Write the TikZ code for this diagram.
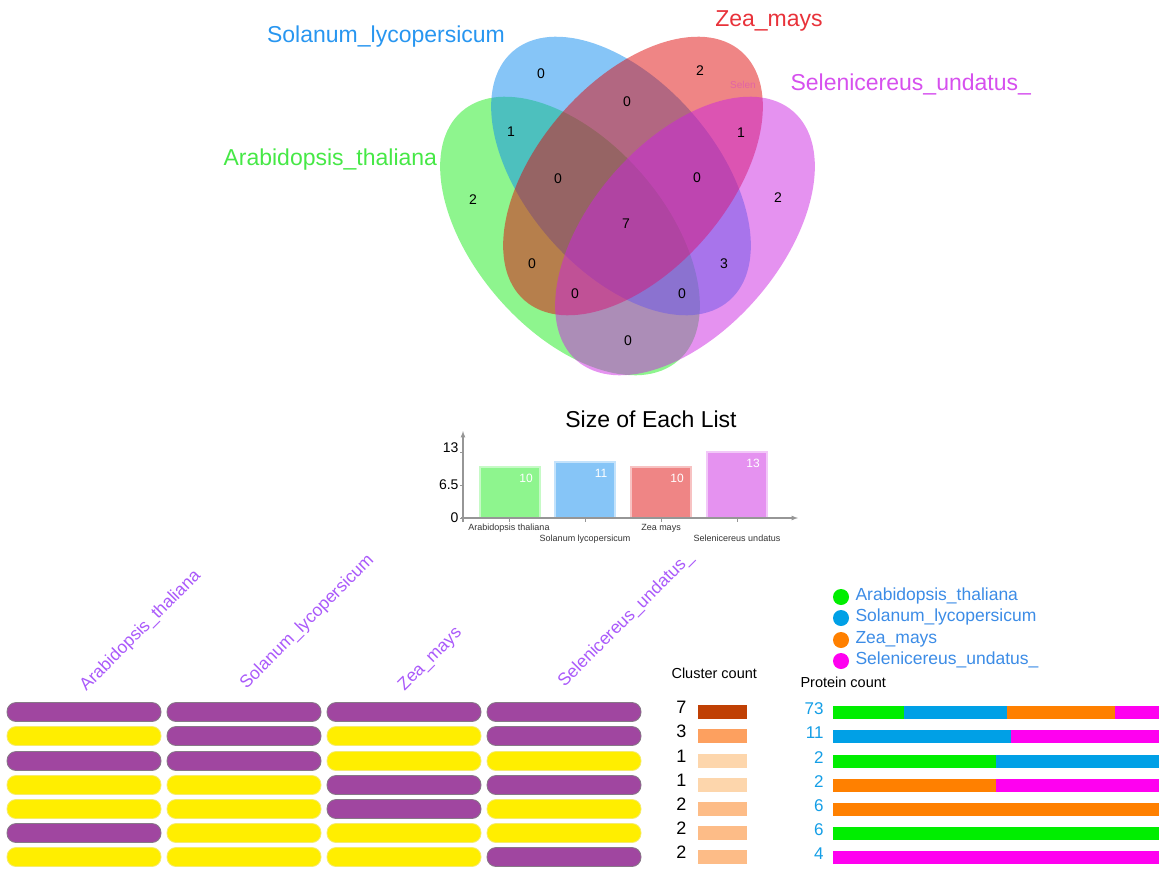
\documentclass[tikz,border=0pt]{standalone}
\usepackage{fontspec}
\setmainfont{Liberation Sans}
\usetikzlibrary{calc,shapes,arrows}
\definecolor{vgreen}{RGB}{29,235,29}
\definecolor{vblue}{RGB}{13,139,239}
\definecolor{vred}{RGB}{223,11,11}
\definecolor{vmag}{RGB}{203,37,225}
\definecolor{tgreen}{RGB}{70,232,70}
\definecolor{tblue}{RGB}{40,150,240}
\definecolor{tred}{RGB}{232,50,58}
\definecolor{tmag}{RGB}{214,80,238}
\definecolor{axgray}{RGB}{150,150,150}
\definecolor{pill1}{RGB}{160,70,160}
\definecolor{pill0}{RGB}{255,238,0}
\definecolor{pillb1}{RGB}{135,120,135}
\definecolor{pillb0}{RGB}{245,235,110}
\definecolor{collabel}{RGB}{170,90,250}
\definecolor{leglabel}{RGB}{60,140,230}
\definecolor{numblue}{RGB}{20,158,230}
\definecolor{pgreen}{RGB}{0,238,0}
\definecolor{pblue}{RGB}{0,160,230}
\definecolor{porange}{RGB}{255,128,0}
\definecolor{pmag}{RGB}{255,0,240}
\definecolor{cdark}{RGB}{192,64,4}
\definecolor{cmid}{RGB}{253,160,95}
\definecolor{clight}{RGB}{253,214,172}
\definecolor{cpale}{RGB}{253,188,135}
\newcommand{\fsz}[1]{\fontsize{#1}{#1}\selectfont}
\tikzset{
        vnum/.style={font=\fsz{14}},
        vlabel/.style={font=\fsz{23},anchor=base},
        collab/.style={font=\fsz{17.5},text=collabel,anchor=base west,rotate=45},
        pill/.style={rounded corners=9,line width=.8},
        ellip/.style={x radius=165,y radius=95}
}
\begin{document}
\begin{tikzpicture}[x=1pt,y=-1pt]
        \useasboundingbox (0,0) rectangle (1167,875);
        \begin{scope}[fill opacity=.5]
        \fill[vgreen,rotate around={-49:(570,236)}] (570,236) ellipse [ellip];
        \fill[vblue,rotate around={-49:(621,176)}] (621,176) ellipse [ellip];
        \fill[vred,rotate around={49:(633,176)}] (633,176) ellipse [ellip];
        \fill[vmag,rotate around={49:(685,236)}] (685,236) ellipse [ellip];
        \end{scope}
        \foreach \x/\y/\n [count=\i] in {541/74/0,700/71/2,627/102/0,511/132/1,741/133/1,473/200/2,778/198/2,558/179/0,697/178/0,626/224/7,532/264/0,724/264/3,575/294/0,682/294/0,628/341/0}
        \node[vnum] (v\i) at (\x,\y) {\n};
        \node[font=\fsz{10},text=vmag,opacity=.35] (ghost) at (743,85) {Selen};
        \node[vlabel,text=tblue] (lsol) at (386,43) {Solanum\_lycopersicum};
        \node[vlabel,text=tred] (lzea) at (769,27) {Zea\_mays};
        \node[vlabel,text=tmag,anchor=base west] (lsel) at (787,91) {Selenicereus\_undatus\_};
        \node[vlabel,text=tgreen,anchor=base west] (lara) at (220,165) {Arabidopsis\_thaliana};
        \node[font=\fsz{23},anchor=base] (title) at (651,427) {Size of Each List};
        \foreach \x/\v/\c in {480/10/vgreen,555/11/vblue,631/10/vred,707/13/vmag}
        {
        \draw[\c!25,line width=1.5,fill=\c!50] (\x,518) rectangle ({\x+60},{518-\v*66/13});
        \node[font=\fsz{12},text=white,anchor=base] at ({\x+46},{518-\v*66/13+15}) {\v};
        }
        \draw[axgray,line width=1.2,-latex] (463,522) -- (463,431);
        \draw[axgray,line width=1.2,-latex] (461,518) -- (798,518);
        \foreach \y/\l/\t in {452/447/13,485/484/6.5,518/517/0}
        {
        \draw[axgray] (460,\y) -- (463,\y);
        \node[font=\fsz{14},anchor=base east] at (462,{\l+5}) {\t};
        }
        \foreach \x/\y/\t in {509/530/Arabidopsis thaliana,585/541/Solanum lycopersicum,661/530/Zea mays,737/541/Selenicereus undatus}
        {
        \draw[axgray] (\x,518) -- (\x,522);
        \node[font=\fsz{9},text=black!80,anchor=base] at (\x,\y) {\t};
        }
        \node[collab] (c1) at (84,694) {Arabidopsis\_thaliana};
        \node[collab] (c2) at (244,692) {Solanum\_lycopersicum};
        \node[collab] (c3) at (402,694) {Zea\_mays};
        \node[collab] (c4) at (562,690) {Selenicereus\_undatus\_};
        \foreach \y/\a/\b/\c/\d in {712/1/1/1/1,736/0/1/0/1,761/1/1/0/0,785/0/0/1/1,809/0/0/1/0,833/1/0/0/0,857/0/0/0/1}
        \foreach \x/\v in {7/\a,167/\b,327/\c,487/\d}
        \draw[pill,fill=pill\v,draw=pillb\v] (\x,{\y-9.5}) rectangle ({\x+154},{\y+9.5});
        \node[font=\fsz{14.5},anchor=base west] (cc) at (668,678) {Cluster count};
        \foreach \y/\n/\c [count=\i] in {712/7/cdark,736/3/cmid,761/1/clight,785/1/clight,809/2/cpale,833/2/cpale,857/2/cpale}
        {
        \fill[\c] (698,{\y-7}) rectangle (747,{\y+7});
        \node[font=\fsz{18},anchor=base east] (cn\i) at (690,{\y+1}) {\n};
        }
        \foreach \y/\c/\t in {597/pgreen/Arabidopsis\_thaliana,618/pblue/Solanum\_lycopersicum,640/porange/Zea\_mays,661/pmag/Selenicereus\_undatus\_}
        {
        \fill[\c] (841,\y) circle [radius=8];
        \node[font=\fsz{17.5},text=leglabel,anchor=base west] at (852,{\y+3}) {\t};
        }
        \node[font=\fsz{14.5},anchor=base west] (pc) at (797,687) {Protein count};
        \foreach \y/\n [count=\i] in {712/73,736/11,761/2,785/2,809/6,833/6,857/4}
        \node[font=\fsz{17},text=numblue,anchor=base east] (pn\i) at (827,{\y+2}) {\n};
        \foreach \y/\x/\xx/\c in {712/833/904/pgreen,712/904/1007/pblue,712/1007/1115/porange,712/1115/1159/pmag,736/833/1011/pblue,736/1011/1159/pmag,761/833/996/pgreen,761/996/1159/pblue,785/833/996/porange,785/996/1159/pmag,809/833/1159/porange,833/833/1159/pgreen,857/833/1159/pmag}
        \fill[\c] (\x,{\y-6.5}) rectangle (\xx,{\y+6.5});
\end{tikzpicture}
\end{document}
